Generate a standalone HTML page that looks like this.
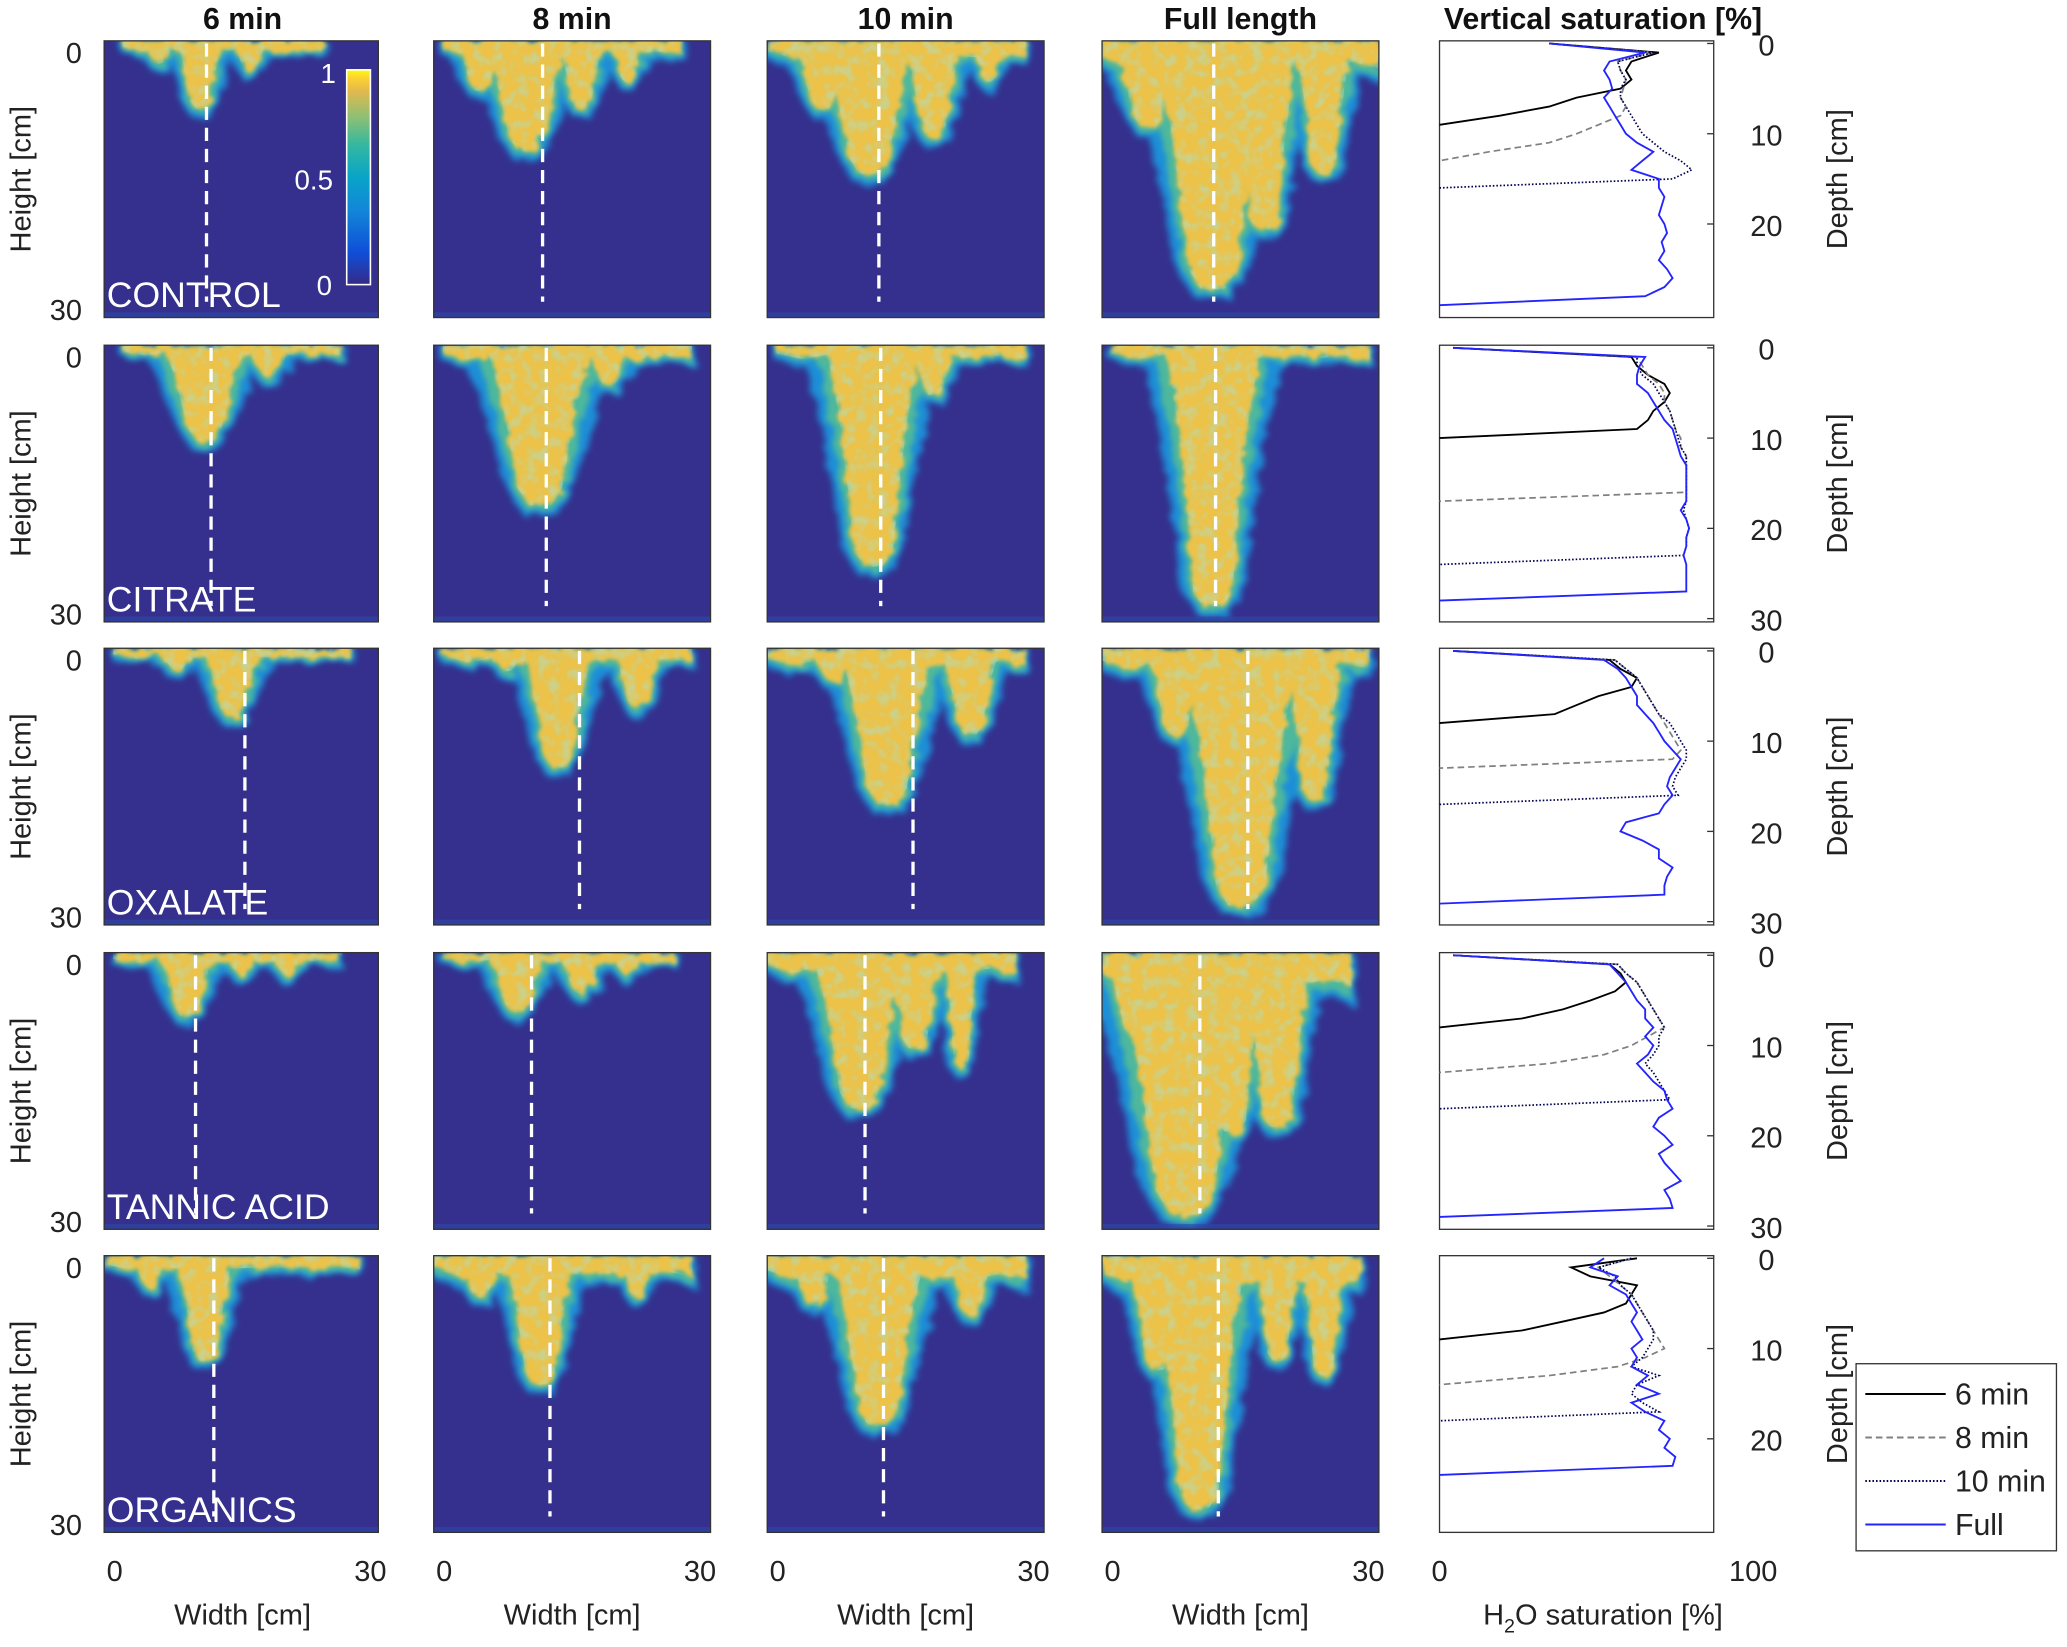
<!DOCTYPE html>
<html><head><meta charset="utf-8"><style>
html,body{margin:0;padding:0;background:#fff}
svg{display:block}
text{font-family:"Liberation Sans",sans-serif}
</style></head><body>
<svg id="fig" xmlns="http://www.w3.org/2000/svg" width="2067" height="1647" viewBox="0 0 1568 1250" preserveAspectRatio="none">
<defs>
<linearGradient id="parula" x1="0" y1="1" x2="0" y2="0">
<stop offset="0" stop-color="#352a87"/><stop offset="0.15" stop-color="#0f4fd8"/><stop offset="0.35" stop-color="#1287d8"/><stop offset="0.5" stop-color="#08a4c8"/><stop offset="0.65" stop-color="#33b8a0"/><stop offset="0.78" stop-color="#8ebf74"/><stop offset="0.9" stop-color="#e1b94e"/><stop offset="0.96" stop-color="#fcd032"/><stop offset="1" stop-color="#f9fb0e"/>
</linearGradient>
<filter id="fOuter" x="-20%" y="-20%" width="140%" height="140%"><feTurbulence type="fractalNoise" baseFrequency="0.09" numOctaves="2" seed="3" result="n"/><feDisplacementMap in="SourceGraphic" in2="n" scale="10" result="d"/><feGaussianBlur in="d" stdDeviation="2.5"/></filter>
<filter id="fMid" x="-20%" y="-20%" width="140%" height="140%"><feTurbulence type="fractalNoise" baseFrequency="0.09" numOctaves="2" seed="3" result="n"/><feDisplacementMap in="SourceGraphic" in2="n" scale="10" result="d"/><feGaussianBlur in="d" stdDeviation="2"/></filter>
<filter id="fIn" x="-20%" y="-20%" width="140%" height="140%"><feTurbulence type="fractalNoise" baseFrequency="0.09" numOctaves="2" seed="3" result="n"/><feDisplacementMap in="SourceGraphic" in2="n" scale="10" result="d"/><feGaussianBlur in="d" stdDeviation="1.5"/></filter>
<filter id="fMottle" x="0" y="0" width="100%" height="100%"><feTurbulence type="fractalNoise" baseFrequency="0.12" numOctaves="2" seed="7" result="n"/><feColorMatrix in="n" type="matrix" values="0 0 0 0 0.45  0 0 0 0 0.72  0 0 0 0 0.5  0 0 0 3 -1.3"/><feComposite in2="SourceGraphic" operator="in"/></filter>
</defs>
</svg>
<script>
// ---- Data ----
const colTitles = ["6 min","8 min","10 min","Full length"];
const rowNames = ["CONTROL","CITRATE","OXALATE","TANNIC ACID","ORGANICS"];
// plume band per panel: [xStart, xEnd, depth] (cm)
const bandsControl = [[2,24,1.5],[1,27,2],[0,28,2.5],[0,30,4]];
const bandsCitrate = [[2,26,1.5],[1,28,2],[1,28,2],[1,29,2]];
const bandsOxalate = [[1,27,1.5],[1,28,2],[0,28,2.5],[0,29,3]];
const bandsTannic = [[1,26,1.5],[1,26,1.5],[0,27,3],[0,27,5]];
const bandsOrganics = [[0,28,2],[0,28,3],[0,28,3.5],[0,28,4]];
// fingers per panel: [centerX, halfWidth, depth] (cm)
const fingersControl = [
 [[10.5,2,8],[16,1.5,4],[6,1.5,3]],
 [[10,3.5,12.5],[16,2,8],[21,1.5,5],[5,2,6]],
 [[11,4,15],[18,2.5,11],[6,2.5,8],[24,1.5,5]],
 [[12,5,27.5],[5,3,10],[17.5,3,21],[24,2.5,15]]];
const fingersCitrate = [
 [[11,3.5,11],[18,2,4]],
 [[11.5,4.5,18],[19,2,5]],
 [[11.5,4,24.5],[18,2,6]],
 [[12,4,29]]];
const fingersOxalate = [
 [[14,2.5,8],[8,2,3]],
 [[13.5,3,13.5],[22,2,7],[8,2,3]],
 [[13,4,17.5],[22,2.5,10],[7,2,4]],
 [[15,5,28.5],[23,2.5,17],[8,2.5,10]]];
const fingersTannic = [
 [[9,2.5,7.5],[15,1.5,3],[20,1.5,3]],
 [[9,2.5,7],[16,2,5],[21,1.5,3]],
 [[10,4,17.5],[16,2.5,11],[21,1.5,13]],
 [[9,6,29],[19,3,19.5],[14,3,20],[4,3,10]]];
const fingersOrganics = [
 [[11,2.5,12],[5,1.5,4]],
 [[11.5,3,14.5],[5,2,5],[22,1.5,5]],
 [[12,4,19],[5,2,6],[22,2,7]],
 [[10.5,4,28],[6,2.5,13],[19,2,12],[24,2,13.5]]];
const dashX = [[11.2,11.8,12.1,12.1],[11.7,12.2,12.3,12.3],[15.4,15.8,15.8,15.8],[10,10.6,10.6,10.6],[12,12.6,12.6,12.6]];
// profile saturation (%) at depth 0,1,2,... cm; last value 0 = front
const ctl6 = [40,80,70,68,70,66,50,40,22,0];
const ctl8 = [40,78,65,66,68,67,66,68,66,58,50,40,18,0];
const ctl10 = [40,78,65,66,68,66,66,68,70,72,74,78,82,88,92,85,0];
const ctlFull = [40,75,62,60,62,63,60,62,64,66,68,72,78,74,70,80,80,82,81,80,82,83,81,82,80,83,85,82,75,0];
const cit6 = [5,70,72,76,82,84,82,78,76,72,0];
const cit8 = [5,72,74,76,80,82,82,84,85,86,88,88,90,90,90,90,90,0];
const cit10 = [5,72,72,74,78,80,82,84,85,86,87,88,90,90,90,90,90,90,89,90,91,90,90,89,0];
const citFull = [5,75,73,72,72,76,78,80,82,85,86,87,88,90,90,90,90,90,88,90,91,90,90,89,90,90,90,90,0];
const oxa6 = [5,62,66,72,70,58,50,42,0];
const oxa8 = [5,64,68,72,74,76,78,80,82,84,86,88,85,0];
const oxa10 = [5,64,68,72,74,76,78,80,84,86,88,90,90,88,86,85,87,0];
const oxaFull = [5,60,65,68,70,72,72,75,78,80,82,85,88,86,84,83,85,82,80,68,66,74,80,80,85,83,82,82,0];
const tan6 = [5,62,66,68,64,55,45,30,0];
const tan8 = [5,65,68,72,74,76,78,80,82,76,70,60,40,0];
const tan10 = [5,65,68,72,74,76,78,80,82,80,80,78,75,78,80,82,84,0];
const tanFull = [5,62,65,68,70,72,75,75,78,75,78,76,72,75,78,82,83,85,80,78,82,85,80,82,85,88,82,84,85,0];
const org6 = [72,48,55,72,70,68,60,45,30,0];
const org8 = [70,58,62,66,70,72,74,76,78,80,82,75,65,40,0];
const org10 = [70,58,64,66,70,72,74,76,78,78,76,74,70,80,72,70,74,80,0];
const orgFull = [60,55,65,62,68,70,72,70,72,74,70,72,70,76,72,80,70,75,82,80,84,82,86,85,0];
const satTicks = [0,100];
const depthTicksByRow = [[0,10,20],[0,10,20,30],[0,10,20,30],[0,10,20,30],[0,10,20]];
const widthTicks = [0,30];

const bands = [bandsControl,bandsCitrate,bandsOxalate,bandsTannic,bandsOrganics];
const fingers = [fingersControl,fingersCitrate,fingersOxalate,fingersTannic,fingersOrganics];
const profiles = [[ctl6,ctl8,ctl10,ctlFull],[cit6,cit8,cit10,citFull],[oxa6,oxa8,oxa10,oxaFull],[tan6,tan8,tan10,tanFull],[org6,org8,org10,orgFull]];

// ---- Layout ----
const NS="http://www.w3.org/2000/svg";
const svg=document.getElementById('fig');
const rowTop=[31,262,492,723,953], PH=210;
const colLeft=[79,329,582,836], PW=210;
const profL=1092, profW=208;
function el(tag,attrs,parent){const e=document.createElementNS(NS,tag);for(const k in attrs)e.setAttribute(k,attrs[k]);(parent||svg).appendChild(e);return e;}
function txt(s,x,y,attrs,parent){const t=el('text',Object.assign({x:x,y:y,'font-size':22,fill:'#222'},attrs||{}),parent);t.textContent=s;return t;}

function fingerPath(xs,ys,f,grow){
  const cx=f[0],hw=f[1]*0.95*grow+(grow>1?0.35:0),d=f[2]+(grow>1?0.5:(grow<1?-0.5:0));
  const pts=[[cx-1.7*hw,0],[cx-1.25*hw,0.3*d],[cx-0.95*hw,0.6*d],[cx-0.7*hw,d-hw*0.6],[cx-0.35*hw,d-0.15],[cx,d],[cx+0.35*hw,d-0.15],[cx+0.7*hw,d-hw*0.6],[cx+0.95*hw,0.6*d],[cx+1.25*hw,0.3*d],[cx+1.7*hw,0]];
  return 'M'+pts.map(p=>xs(p[0]).toFixed(1)+','+ys(Math.max(p[1],0)).toFixed(1)).join(' L')+'Z';
}
function bandPath(xs,ys,b,grow){
  const x0=b[0]-(grow>1?0.4:0),x1=b[1]+(grow>1?0.4:0),d=b[2]*(grow>1?1.2:(grow<1?0.75:1));
  const n=10,pts=[[x0,0]];
  for(let i=0;i<=n;i++){const x=x0+(x1-x0)*i/n;pts.push([x,d*(0.6+0.4*Math.abs(Math.sin(i*1.7)))]);}
  pts.push([x1,0]);
  return 'M'+pts.map(p=>xs(p[0]).toFixed(1)+','+ys(p[1]).toFixed(1)).join(' L')+'Z';
}

colTitles.forEach((t,c)=>{
  const e=txt(t,colLeft[c]+PW/2,22,{'text-anchor':'middle','font-weight':'bold','font-size':23,fill:'#111'});
  
  
});
{const e=txt('Vertical saturation [%]',1216,22,{'text-anchor':'middle','font-weight':'bold','font-size':23,fill:'#111'});
 }

for(let r=0;r<5;r++){
  const top=rowTop[r];
  for(let c=0;c<4;c++){
    const L=colLeft[c], W=(c==0?208:PW);
    const xs=v=>L+v/30*W, ys=v=>top+v/30*PH;
    const g=el('g',{});
    
    
    const clip=el('clipPath',{id:'cp'+r+c},g);
    el('rect',{x:L,y:top,width:W,height:PH},clip);
    const bg=el('rect',{x:L,y:top,width:W,height:PH,fill:'#35308d'},g);
    
    const cg=el('g',{'clip-path':'url(#cp'+r+c+')'},g);
    const layers=[[1.15,'#1e8fd8','fOuter'],[1.0,'#4db89c','fMid'],[0.8,'#ecc24a','fIn']];
    layers.forEach((ly,li)=>{
      const lg=el('g',{filter:'url(#'+ly[2]+')',fill:ly[1]},cg);
      const bp=el('path',{d:bandPath(xs,ys,bands[r][c],ly[0])},lg);
      
      fingers[r][c].forEach(f=>{
        const fp=el('path',{d:fingerPath(xs,ys,f,ly[0])},lg);
        
      });
      if(li==2){
        const mg=el('g',{filter:'url(#fMottle)',opacity:0.55},cg);
        
        el('path',{d:bandPath(xs,ys,bands[r][c],ly[0])},mg);
        fingers[r][c].forEach(f=>{el('path',{d:fingerPath(xs,ys,f,ly[0])},mg);});
      }
    });
    el('rect',{x:L,y:top+PH-4,width:W,height:4,fill:'#2d4aa8',opacity:0.6},cg);
    const dl=el('line',{x1:xs(dashX[r][c]),x2:xs(dashX[r][c]),y1:top+2,y2:top+PH-12,stroke:'#fff','stroke-width':2.5,'stroke-dasharray':'10,6'},g);
    
    
    el('rect',{x:L,y:top,width:W,height:PH,fill:'none',stroke:'#333','stroke-width':1},g);
  }
  {const e=txt(rowNames[r],81,top+PH-8,{'font-size':27,fill:'#fff'});
   }
  {const e=txt('0',56,top+17,{'text-anchor':'middle'});}
  {const e=txt('30',50,top+212,{'text-anchor':'middle'});}
  {const e=txt('Height [cm]',0,0,{'text-anchor':'middle',transform:'translate(23,'+(top+PH/2)+') rotate(-90)'});
   }

  const pg=el('g',{});
  
  
  const px=s=>profL+s/100*profW, py=d=>top+2+d*6.85;
  el('rect',{x:profL,y:top,width:profW,height:PH,fill:'#fff',stroke:'#333','stroke-width':1},pg);
  const styles=[{stroke:'#000','stroke-width':1.4},{stroke:'#808080','stroke-width':1.3,'stroke-dasharray':'5,3'},{stroke:'#000050','stroke-width':1.3,'stroke-dasharray':'1.2,1.5'},{stroke:'#2424ff','stroke-width':1.4}];
  const sn=['6min','8min','10min','full'];
  profiles[r].forEach((arr,i)=>{
    let d='';
    arr.forEach((v,k)=>{d+=(k?'L':'M')+px(v).toFixed(1)+','+py(k).toFixed(1);});
    const p=el('path',Object.assign({d:d,fill:'none'},styles[i]),pg);
    
    
  });
  depthTicksByRow[r].forEach(t=>{
    el('line',{x1:profL+profW-5,x2:profL+profW,y1:py(t),y2:py(t),stroke:'#333'},pg);
    const e=txt(String(t),1340,py(t)+9,{'text-anchor':'middle'},pg);
    
  });
  {const e=txt('Depth [cm]',0,0,{'text-anchor':'middle',transform:'translate(1401,'+(top+PH/2)+') rotate(-90)'});
   }
}

colLeft.forEach((L,c)=>{
  widthTicks.forEach(t=>{
    const e=txt(String(t),L+8+t/30*(PW-8)+(t?-8:0),1200,{'text-anchor':'middle'});
    
  });
  const e=txt('Width [cm]',L+PW/2,1233,{'text-anchor':'middle'});
  
});
satTicks.forEach(t=>{
  const e=txt(String(t),t?1330:1092,1200,{'text-anchor':'middle'});
  
});
{const t=el('text',{x:1216,y:1233,'text-anchor':'middle','font-size':22,fill:'#222'});
 
 t.innerHTML='H<tspan dy="6" font-size="15">2</tspan><tspan dy="-6">O saturation [%]</tspan>';}

{const g=el('g',{});
 el('rect',{x:263,y:53,width:18,height:163,fill:'url(#parula)',stroke:'#fff','stroke-width':1.2},g);
 [['1',249,63],['0.5',238,144],['0',246,224]].forEach(a=>{const e=txt(a[0],a[1],a[2],{fill:'#fff','font-size':21,'text-anchor':'middle'},g);});}

{const g=el('g',{});
 el('rect',{x:1408,y:1035,width:152,height:142,fill:'#fff',stroke:'#333'},g);
 const labs=['6 min','8 min','10 min','Full'];
 const st=[{stroke:'#000','stroke-width':1.5},{stroke:'#808080','stroke-width':1.5,'stroke-dasharray':'5,3'},{stroke:'#000050','stroke-width':1.5,'stroke-dasharray':'1.2,1.5'},{stroke:'#2424ff','stroke-width':1.5}];
 labs.forEach((l,i)=>{const y=1058+i*33;
  const e=el('g',{},g);
  el('line',Object.assign({x1:1415,x2:1476,y1:y,y2:y},st[i]),e);
  txt(l,1483,y+8,{'font-size':23},e);});}
</script>
</body></html>
